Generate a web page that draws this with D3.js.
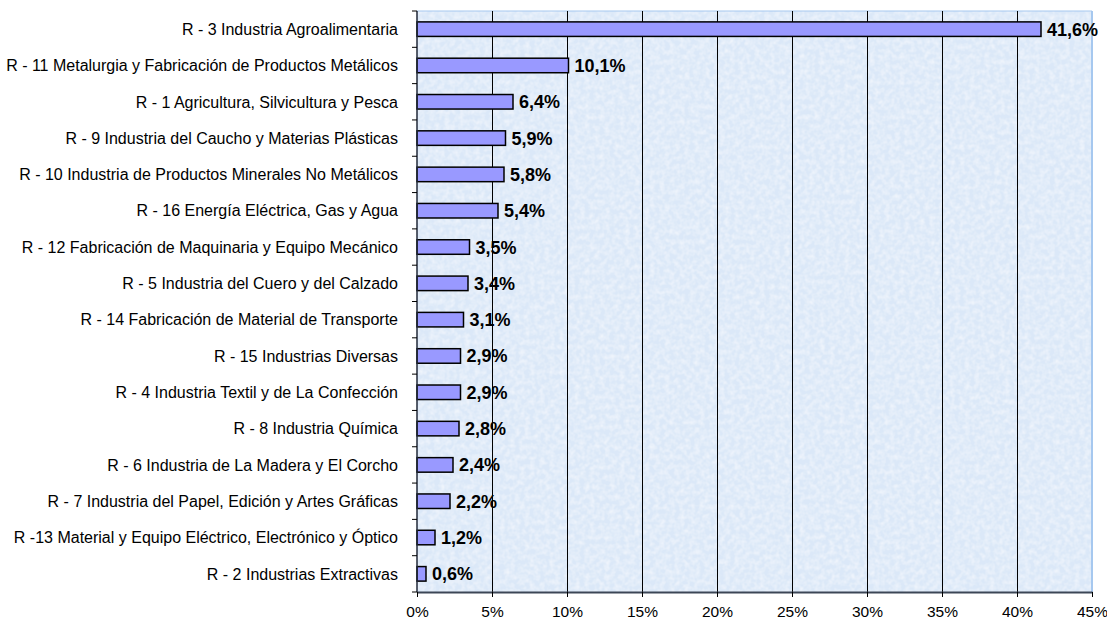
<!DOCTYPE html>
<html><head><meta charset="utf-8">
<script src="https://cdn.jsdelivr.net/npm/d3@7"></script>
<style>body{margin:0;background:#fff;}svg{display:block;font-family:"Liberation Sans",Arial,sans-serif;}</style>
</head><body>
<svg id="chart" width="1107" height="622"></svg>
<script>
const categories = [
  "R - 3 Industria Agroalimentaria",
  "R - 11 Metalurgia y Fabricación de Productos Metálicos",
  "R - 1 Agricultura, Silvicultura y Pesca",
  "R - 9 Industria del Caucho y Materias Plásticas",
  "R - 10 Industria de Productos Minerales No Metálicos",
  "R - 16 Energía Eléctrica, Gas y Agua",
  "R - 12 Fabricación de Maquinaria y Equipo Mecánico",
  "R - 5 Industria del Cuero y del Calzado",
  "R - 14 Fabricación de Material de Transporte",
  "R - 15 Industrias Diversas",
  "R - 4 Industria Textil y de La Confección",
  "R - 8 Industria Química",
  "R - 6 Industria de La Madera y El Corcho",
  "R - 7 Industria del Papel, Edición y Artes Gráficas",
  "R -13 Material y Equipo Eléctrico, Electrónico y Óptico",
  "R - 2 Industrias Extractivas"
];
const values = [41.6, 10.1, 6.4, 5.9, 5.8, 5.4, 3.5, 3.4, 3.1, 2.9, 2.9, 2.8, 2.4, 2.2, 1.2, 0.6];
const xTicks = [0, 5, 10, 15, 20, 25, 30, 35, 40, 45];

const svg = d3.select("#chart");
const L = 417, R = 1092, T = 11, B = 592;
const x = d3.scaleLinear().domain([0, 45]).range([L, R]);
const y = d3.scaleBand().domain(categories).range([T, B]).paddingInner(0.6).paddingOuter(0.3);

const defs = svg.append("defs");
const f = defs.append("filter").attr("id", "tex").attr("x", 0).attr("y", 0).attr("width", 1).attr("height", 1);
f.append("feTurbulence").attr("type", "fractalNoise").attr("baseFrequency", 0.2).attr("numOctaves", 2).attr("seed", 7).attr("result", "n");
f.append("feColorMatrix").attr("in", "n").attr("type", "matrix")
  .attr("values", "0 0 0 0 1  0 0 0 0 1  0 0 0 0 1  0 0 0 0.9 -0.3").attr("result", "w");
f.append("feComposite").attr("in", "w").attr("in2", "SourceGraphic").attr("operator", "in").attr("result", "wc");
f.append("feMerge").call(m => { m.append("feMergeNode").attr("in", "SourceGraphic"); m.append("feMergeNode").attr("in", "wc"); });

svg.append("rect").attr("x", L).attr("y", T).attr("width", R - L).attr("height", B - T)
  .attr("fill", "#dbe8f8").attr("filter", "url(#tex)");
svg.append("line").attr("x1", R).attr("x2", R).attr("y1", T).attr("y2", B).attr("stroke", "#a6c8ef").attr("stroke-width", 2);
svg.append("line").attr("x1", L).attr("x2", R).attr("y1", T).attr("y2", T).attr("stroke", "#a6c8ef").attr("stroke-width", 1);

// gridlines
svg.append("g").selectAll("line").data(xTicks.filter(d => d > 0 && d < 45)).join("line")
  .attr("x1", d => x(d)).attr("x2", d => x(d)).attr("y1", T).attr("y2", B)
  .attr("stroke", "#000").attr("stroke-width", 1).attr("shape-rendering", "crispEdges");

// bars
svg.append("g").selectAll("rect").data(values).join("rect")
  .attr("x", x(0)).attr("y", (d, i) => y(categories[i]))
  .attr("width", d => x(d) - x(0)).attr("height", y.bandwidth())
  .attr("fill", "#9999ff").attr("stroke", "#000").attr("stroke-width", 1.5);

// value labels
svg.append("g").selectAll("text").data(values).join("text")
  .attr("x", d => x(d) + 6).attr("y", (d, i) => y(categories[i]) + y.bandwidth() / 2)
  .attr("dy", "0.36em").attr("font-size", 18).attr("font-weight", "bold").attr("fill", "#000")
  .text(d => d.toFixed(1).replace(".", ",") + "%");

// x axis
const xAxis = svg.append("g").attr("transform", `translate(0,${B})`)
  .call(d3.axisBottom(x).tickValues(xTicks).tickFormat(d => d + "%").tickSize(5).tickSizeOuter(0));
xAxis.select(".domain").attr("stroke", "#3c4656").attr("stroke-width", 2);
xAxis.selectAll(".tick line").attr("stroke", "#000");
xAxis.selectAll(".tick text").attr("font-size", 15.5).attr("dy", "1.1em").attr("font-family", "'Liberation Sans', Arial, sans-serif").attr("fill", "#000");

// y axis with ticks at band boundaries
const yg = svg.append("g");
yg.append("line").attr("x1", L).attr("x2", L).attr("y1", T).attr("y2", B).attr("stroke", "#202838").attr("stroke-width", 1.5);
const bounds = d3.range(categories.length + 1).map(i => T + i * (B - T) / categories.length);
yg.selectAll("line.tk").data(bounds).join("line").attr("class", "tk")
  .attr("x1", L - 5).attr("x2", L).attr("y1", d => d).attr("y2", d => d).attr("stroke", "#000");
yg.selectAll("text").data(categories).join("text")
  .attr("x", 398).attr("y", d => y(d) + y.bandwidth() / 2).attr("dy", "0.36em")
  .attr("text-anchor", "end").attr("font-size", 16).attr("fill", "#000").text(d => d);
</script>
</body></html>
